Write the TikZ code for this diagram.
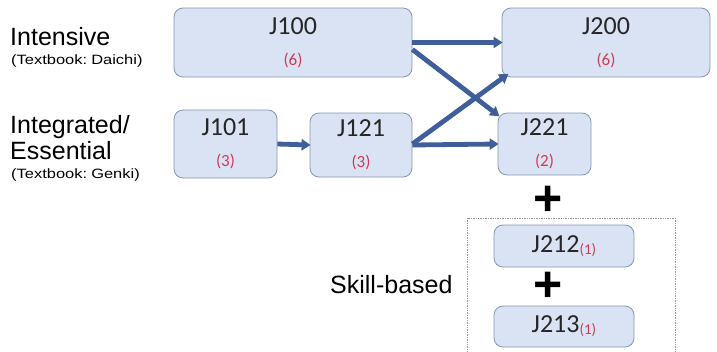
\documentclass[tikz,border=0pt]{standalone}
\usepackage{fontspec}
\setmainfont{Carlito}
\newfontfamily\lblfont{Liberation Sans}
\newfontfamily\smallfont[FakeStretch=1.22]{Liberation Sans}
\newfontfamily\boldplus{Liberation Sans}
\usetikzlibrary{arrows.meta}
\definecolor{boxfill}{HTML}{DAE3F3}
\definecolor{boxline}{HTML}{8497B0}
\definecolor{arrowblue}{HTML}{3F5E9A}
\definecolor{credred}{HTML}{D03A55}
\tikzset{
  course/.style={draw=boxline, fill=boxfill, line width=0.8pt, rounded corners=9pt,
    inner sep=0pt, align=center, font=\fontsize{26}{27}\selectfont, text=black!85},
  flow/.style={draw=arrowblue, line width=4.8pt, -{Triangle[length=9pt,width=11pt]}, shorten >=-1pt},
  track/.style={font=\lblfont\fontsize{25}{26}\selectfont, anchor=west, align=left, inner sep=0pt},
  small/.style={font=\smallfont\fontsize{13.5}{14}\selectfont, anchor=west, inner sep=0pt},
  plus/.style={font=\boldplus\bfseries\fontsize{50}{50}\selectfont, inner sep=0pt},
}
\newcommand{\cred}[1]{{\color{credred}\fontsize{17}{17}\selectfont(#1)}}
\newcommand{\subcred}[1]{{\color{credred}\fontsize{15}{15}\selectfont\raisebox{-2pt}{(#1)}}}
\begin{document}
\begin{tikzpicture}[x=1pt,y=-1pt]
\useasboundingbox (0,0) rectangle (717,351);
\begin{scope}
\clip (0,0) rectangle (717,351);
\draw[gray!80, densely dotted, line width=0.7pt] (467,218) rectangle (675,360);
\end{scope}
% courses
\node[course, minimum width=238pt, minimum height=69pt] (j100) at (293,42.5) {J100\\[4pt]\cred{6}};
\node[course, minimum width=208pt, minimum height=69pt] (j200) at (606,42.5) {J200\\[4pt]\cred{6}};
\node[course, minimum width=103pt, minimum height=68pt] (j101) at (225.5,144) {J101\\[4pt]\cred{3}};
\node[course, minimum width=102pt, minimum height=64pt] (j121) at (361,145) {J121\\[4pt]\cred{3}};
\node[course, minimum width=93pt, minimum height=62pt] (j221) at (544.5,144) {J221\\[4pt]\cred{2}};
\node[course, minimum width=140pt, minimum height=42pt] (j212) at (564,246) {J212\subcred{1}};
\node[course, minimum width=140pt, minimum height=41pt] (j213) at (564,326.5) {J213\subcred{1}};
% plus signs
\node[plus] (p1) at (548,201) {+};
\node[plus] (p2) at (548,287) {+};
% left labels
\node[track] (int) at (10,37) {Intensive};
\node[small] (dai) at (11,61) {(Textbook:\hspace{-2pt} Daichi)};
\node[track] (integ) at (10,138) {Integrated/\\Essential};
\node[small] (gen) at (11,175) {(Textbook:\hspace{-2pt} Genki)};
\node[track] (skill) at (330,285) {Skill-based};
% arrows
\draw[flow] (j100.east) -- (j200.west);
\draw[flow] ([yshift=-7pt]j100.east) -- ([xshift=1pt,yshift=-3pt]j221.north west);
\draw[flow] ([yshift=1pt]j121.east) -- ([xshift=6pt,yshift=3pt]j200.south west);
\draw[flow] (j121.east) -- (j221.west);
\draw[flow] (j101.east) -- (j121.west);
\end{tikzpicture}
\end{document}
